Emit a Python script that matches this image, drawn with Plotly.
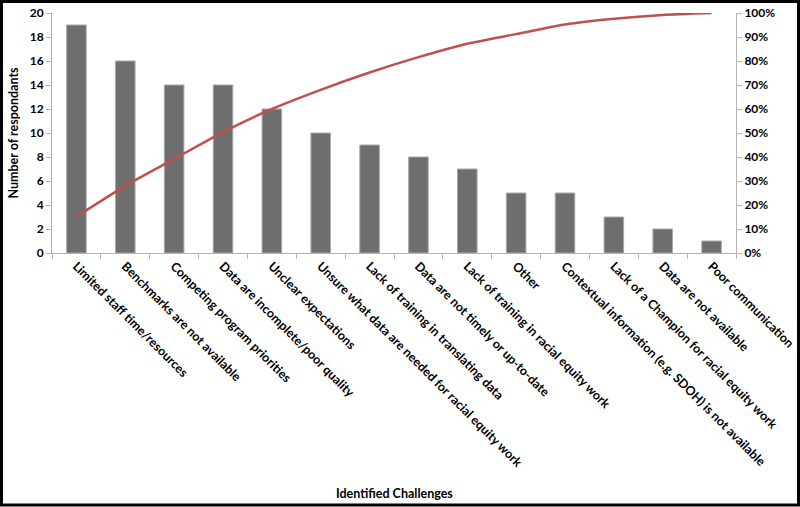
import plotly.graph_objects as go

categories = [
    "Limited staff time/resources",
    "Benchmarks are not available",
    "Competing program priorities",
    "Data are incomplete/poor quality",
    "Unclear expectations",
    "Unsure what data are needed for racial equity work",
    "Lack of training in translating data",
    "Data are not timely or up-to-date",
    "Lack of training in racial equity work",
    "Other",
    "Contextual information (e.g. SDOH) is not available",
    "Lack of a Champion for racial equity work",
    "Data are not available",
    "Poor communication",
]
counts = [19, 16, 14, 14, 12, 10, 9, 8, 7, 5, 5, 3, 2, 1]

total = sum(counts)
cum_pct = []
running = 0
for c in counts:
    running += c
    cum_pct.append(running / total)

W, H = 800, 507
ml, mr, mt, mb = 52, 64, 13, 254
pw, ph = W - ml - mr, H - mt - mb

FONT = "Lato"

fig = go.Figure()
fig.add_trace(go.Bar(
    x=categories, y=counts,
    marker=dict(color="#6e6e6e", line=dict(color="#a8a8a8", width=1)),
    yaxis="y", showlegend=False,
))
fig.add_trace(go.Scatter(
    x=categories, y=cum_pct, mode="lines",
    line=dict(color="#c0504d", width=2.5, shape="spline", smoothing=0.6),
    yaxis="y2", showlegend=False,
))

axis_line = "#b3b3b3"
fig.update_layout(
    width=W, height=H,
    margin=dict(l=ml, r=mr, t=mt, b=mb, autoexpand=False),
    paper_bgcolor="white", plot_bgcolor="white",
    bargap=0.6,
    font=dict(family=FONT, size=12, color="black"),
    xaxis=dict(
        type="category", tickangle=45, automargin=False,
        showline=True, linecolor=axis_line, linewidth=1,
        ticks="outside", ticklen=5, tickcolor=axis_line, tickson="boundaries",
        tickfont=dict(family=FONT, size=12.5, color="black", weight="bold"),
        showgrid=False, zeroline=False,
    ),
    yaxis=dict(
        range=[0, 20], dtick=2, automargin=False,
        showline=True, linecolor=axis_line, linewidth=1,
        ticks="outside", ticklen=5, tickcolor=axis_line,
        tickfont=dict(family=FONT, size=12, color="black", weight="bold"),
        showgrid=False, zeroline=False,
        title=dict(text="Number of respondants", standoff=8,
                   font=dict(family=FONT, size=12.5, weight="bold")),
    ),
    yaxis2=dict(
        range=[0, 1], dtick=0.1, tickformat=".0%", automargin=False,
        overlaying="y", side="right",
        showline=True, linecolor=axis_line, linewidth=1,
        ticks="outside", ticklen=5, tickcolor=axis_line,
        tickfont=dict(family=FONT, size=12, color="black", weight="bold"),
        showgrid=False, zeroline=False,
    ),
    annotations=[dict(
        text="Identified Challenges", xref="paper", yref="paper",
        x=0.5, y=-(493 - 253) / ph, xanchor="center", yanchor="middle",
        showarrow=False, font=dict(family=FONT, size=12.5, weight="bold"),
    )],
    shapes=[dict(
        type="rect", xref="paper", yref="paper",
        x0=-(ml - 1.5) / pw, x1=1 + (mr - 1.5) / pw,
        y0=-(mb - 2) / ph, y1=1 + (mt - 1.5) / ph,
        line=dict(color="black", width=3), layer="above",
    )],
)

fig.write_html(
    "out.html",
    config={"displayModeBar": False},
    post_script="document.body.style.margin='0';document.body.style.padding='0';"
                "document.body.style.overflow='hidden';",
)
